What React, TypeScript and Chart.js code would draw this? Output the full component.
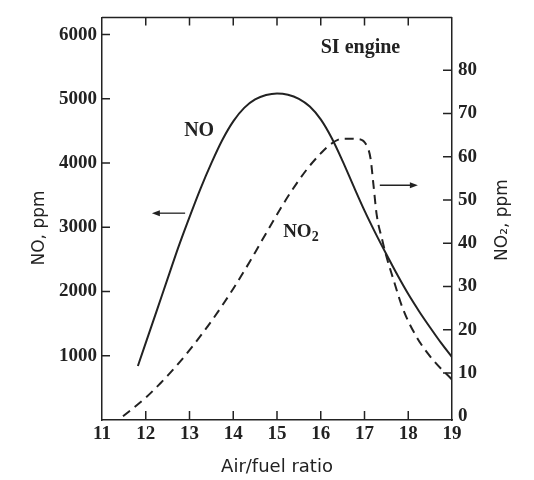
import { useEffect, useRef } from "react";
import { Chart, registerables } from "chart.js";

Chart.register(...registerables);

// Air/fuel ratio (x) and NO concentration, ppm (left axis)
const airFuelNO = [11.82, 12.0, 12.25, 12.5, 12.75, 13.0, 13.25, 13.5, 13.75, 14.0, 14.25, 14.5, 14.75, 15.0, 15.25, 15.5, 15.75, 16.0, 16.25, 16.5, 16.75, 17.0, 17.25, 17.5, 17.75, 18.0, 18.25, 18.5, 18.75, 19.0];
const noPpm = [840, 1200, 1700, 2200, 2700, 3160, 3600, 4000, 4360, 4650, 4860, 4990, 5060, 5085, 5065, 5000, 4880, 4680, 4390, 4030, 3640, 3260, 2910, 2580, 2260, 1960, 1690, 1440, 1200, 980];

// Air/fuel ratio (x) and NO2 concentration, ppm (right axis)
const airFuelNO2 = [11.48, 11.87, 12.0, 12.33, 12.5, 12.78, 13.0, 13.5, 14.0, 14.38, 14.5, 14.95, 15.3, 15.69, 16.0, 16.21, 16.5, 16.83, 17.05, 17.14, 17.2, 17.28, 17.4, 17.5, 17.65, 17.88, 18.2, 18.57, 19.0];
const no2Ppm = [0, 3.2, 4.3, 7.6, 9.4, 12.6, 15.3, 22.0, 29.5, 35.8, 37.9, 45.8, 51.6, 57.2, 60.8, 62.8, 64.2, 64.1, 62.6, 59.5, 54.0, 46.5, 41.0, 37.0, 32.0, 24.8, 18.2, 13.0, 8.5];

// Tick labels
const xTicks = [11, 12, 13, 14, 15, 16, 17, 18, 19];
const noTicks = [1000, 2000, 3000, 4000, 5000, 6000];
const no2Ticks = [0, 10, 20, 30, 40, 50, 60, 70, 80];

const INK = "#222222";
const TICK_FONT = { family: "'Liberation Serif', 'Times New Roman', serif", size: 19, weight: "bold" as const };
const plain = (v: any) => String(v);

const annotate = {
  id: "annotate",
  afterDraw(chart: any) {
    const ctx: CanvasRenderingContext2D = chart.ctx;
    const { left, right, top, bottom } = chart.chartArea;
    const xs = chart.scales.x;
    const ys = chart.scales.y;
    const y2 = chart.scales.y2;
    ctx.save();
    ctx.strokeStyle = INK;
    ctx.fillStyle = INK;
    ctx.lineWidth = 1.5;
    // top frame
    ctx.beginPath();
    ctx.moveTo(left, top);
    ctx.lineTo(right, top);
    ctx.stroke();
    // inward tick marks
    ctx.beginPath();
    xTicks.slice(1, -1).forEach((v) => {
      const px = xs.getPixelForValue(v);
      ctx.moveTo(px, bottom);
      ctx.lineTo(px, bottom - 9);
      ctx.moveTo(px, top);
      ctx.lineTo(px, top + 8);
    });
    noTicks.forEach((v) => {
      const py = ys.getPixelForValue(v);
      ctx.moveTo(left, py);
      ctx.lineTo(left + 8, py);
    });
    no2Ticks.filter((v) => v > 0).forEach((v) => {
      const py = y2.getPixelForValue(v);
      ctx.moveTo(right, py);
      ctx.lineTo(right - 9, py);
    });
    ctx.stroke();

    const P = (x: number, y: number) => [xs.getPixelForValue(x), ys.getPixelForValue(y)];
    const serifB = (s: number) => `bold ${s}px 'Liberation Serif', 'Times New Roman', serif`;

    // labels
    ctx.textBaseline = "middle";
    ctx.textAlign = "left";
    ctx.font = serifB(20);
    let [tx, ty] = P(16.0, 5800);
    ctx.fillText("SI engine", tx, ty);
    ctx.textAlign = "center";
    [tx, ty] = P(13.22, 4495);
    ctx.fillText("NO", tx, ty);
    ctx.textAlign = "left";
    ctx.font = serifB(19);
    [tx, ty] = P(15.14, 2925);
    ctx.fillText("NO", tx, ty);
    const w = ctx.measureText("NO").width;
    ctx.font = serifB(14);
    ctx.fillText("2", tx + w, ty + 5);

    // arrows
    const arrow = (x1: number, x2: number, yv: number) => {
      const [ax, ay] = P(x1, yv);
      const [bx] = P(x2, yv);
      const dir = Math.sign(bx - ax);
      ctx.lineWidth = 1.3;
      ctx.beginPath();
      ctx.moveTo(ax, ay);
      ctx.lineTo(bx - dir * 5, ay);
      ctx.stroke();
      ctx.beginPath();
      ctx.moveTo(bx, ay);
      ctx.lineTo(bx - dir * 8, ay - 3);
      ctx.lineTo(bx - dir * 8, ay + 3);
      ctx.closePath();
      ctx.fill();
    };
    arrow(12.9, 12.14, 3220);
    arrow(17.35, 18.22, 3655);

    // axis titles
    const sans = (s: number) => `${s}px 'DejaVu Sans', sans-serif`;
    ctx.textAlign = "center";
    ctx.font = sans(18);
    ctx.fillText("Air/fuel ratio", (left + right) / 2, 467);
    ctx.font = sans(17);
    ctx.save();
    ctx.translate(40, 228);
    ctx.rotate(-Math.PI / 2);
    ctx.fillText("NO, ppm", 0, 0);
    ctx.restore();
    ctx.save();
    ctx.translate(503, 220);
    ctx.rotate(-Math.PI / 2);
    ctx.fillText("NO\u2082, ppm", 0, 0);
    ctx.restore();
    ctx.restore();
  },
};

export default function App() {
  const ref = useRef<HTMLCanvasElement | null>(null);
  useEffect(() => {
    if (!ref.current) return;
    const chart = new Chart(ref.current, {
      type: "line",
      data: {
        datasets: [
          {
            label: "NO",
            data: airFuelNO.map((x, i) => ({ x, y: noPpm[i] })),
            yAxisID: "y",
            borderColor: INK,
            borderWidth: 2,
            pointRadius: 0,
            fill: false,
            cubicInterpolationMode: "monotone",
          },
          {
            label: "NO2",
            data: airFuelNO2.map((x, i) => ({ x, y: no2Ppm[i] })),
            yAxisID: "y2",
            borderColor: INK,
            borderWidth: 2,
            borderDash: [9, 6],
            pointRadius: 0,
            fill: false,
            cubicInterpolationMode: "monotone",
          },
        ],
      },
      options: {
        animation: false,
        responsive: false,
        devicePixelRatio: 1,
        layout: { padding: { top: 17, left: 0, right: 0, bottom: 0 } },
        plugins: { legend: { display: false }, tooltip: { enabled: false } },
        scales: {
          x: {
            type: "linear",
            min: 11,
            max: 19,
            afterBuildTicks: (s: any) => { s.ticks = xTicks.map((value) => ({ value })); },
            afterFit: (s: any) => { s.height = 60; },
            ticks: { font: TICK_FONT, color: INK, padding: 3, maxRotation: 0, autoSkip: false, callback: plain },
            grid: { display: false, drawTicks: false },
            border: { display: true, color: INK, width: 1.5 },
          },
          y: {
            type: "linear",
            position: "left",
            min: 0,
            max: 6268,
            afterBuildTicks: (s: any) => { s.ticks = noTicks.map((value) => ({ value })); },
            afterFit: (s: any) => { s.width = 102; },
            ticks: { font: TICK_FONT, color: INK, padding: 5, callback: plain },
            grid: { display: false, drawTicks: false },
            border: { display: true, color: INK, width: 1.5 },
          },
          y2: {
            type: "linear",
            position: "right",
            min: -0.85,
            max: 92.24,
            afterBuildTicks: (s: any) => { s.ticks = no2Ticks.map((value) => ({ value })); },
            afterFit: (s: any) => { s.width = 82; },
            ticks: { font: TICK_FONT, color: INK, padding: 6, callback: plain },
            grid: { display: false, drawTicks: false },
            border: { display: true, color: INK, width: 1.5 },
          },
        },
      },
      plugins: [annotate],
    } as any);
    return () => chart.destroy();
  }, []);
  return (
    <div style={{ position: "fixed", left: 0, top: 0, width: 534, height: 480, background: "#fff" }}>
      <canvas ref={ref} width={534} height={480} />
    </div>
  );
}
